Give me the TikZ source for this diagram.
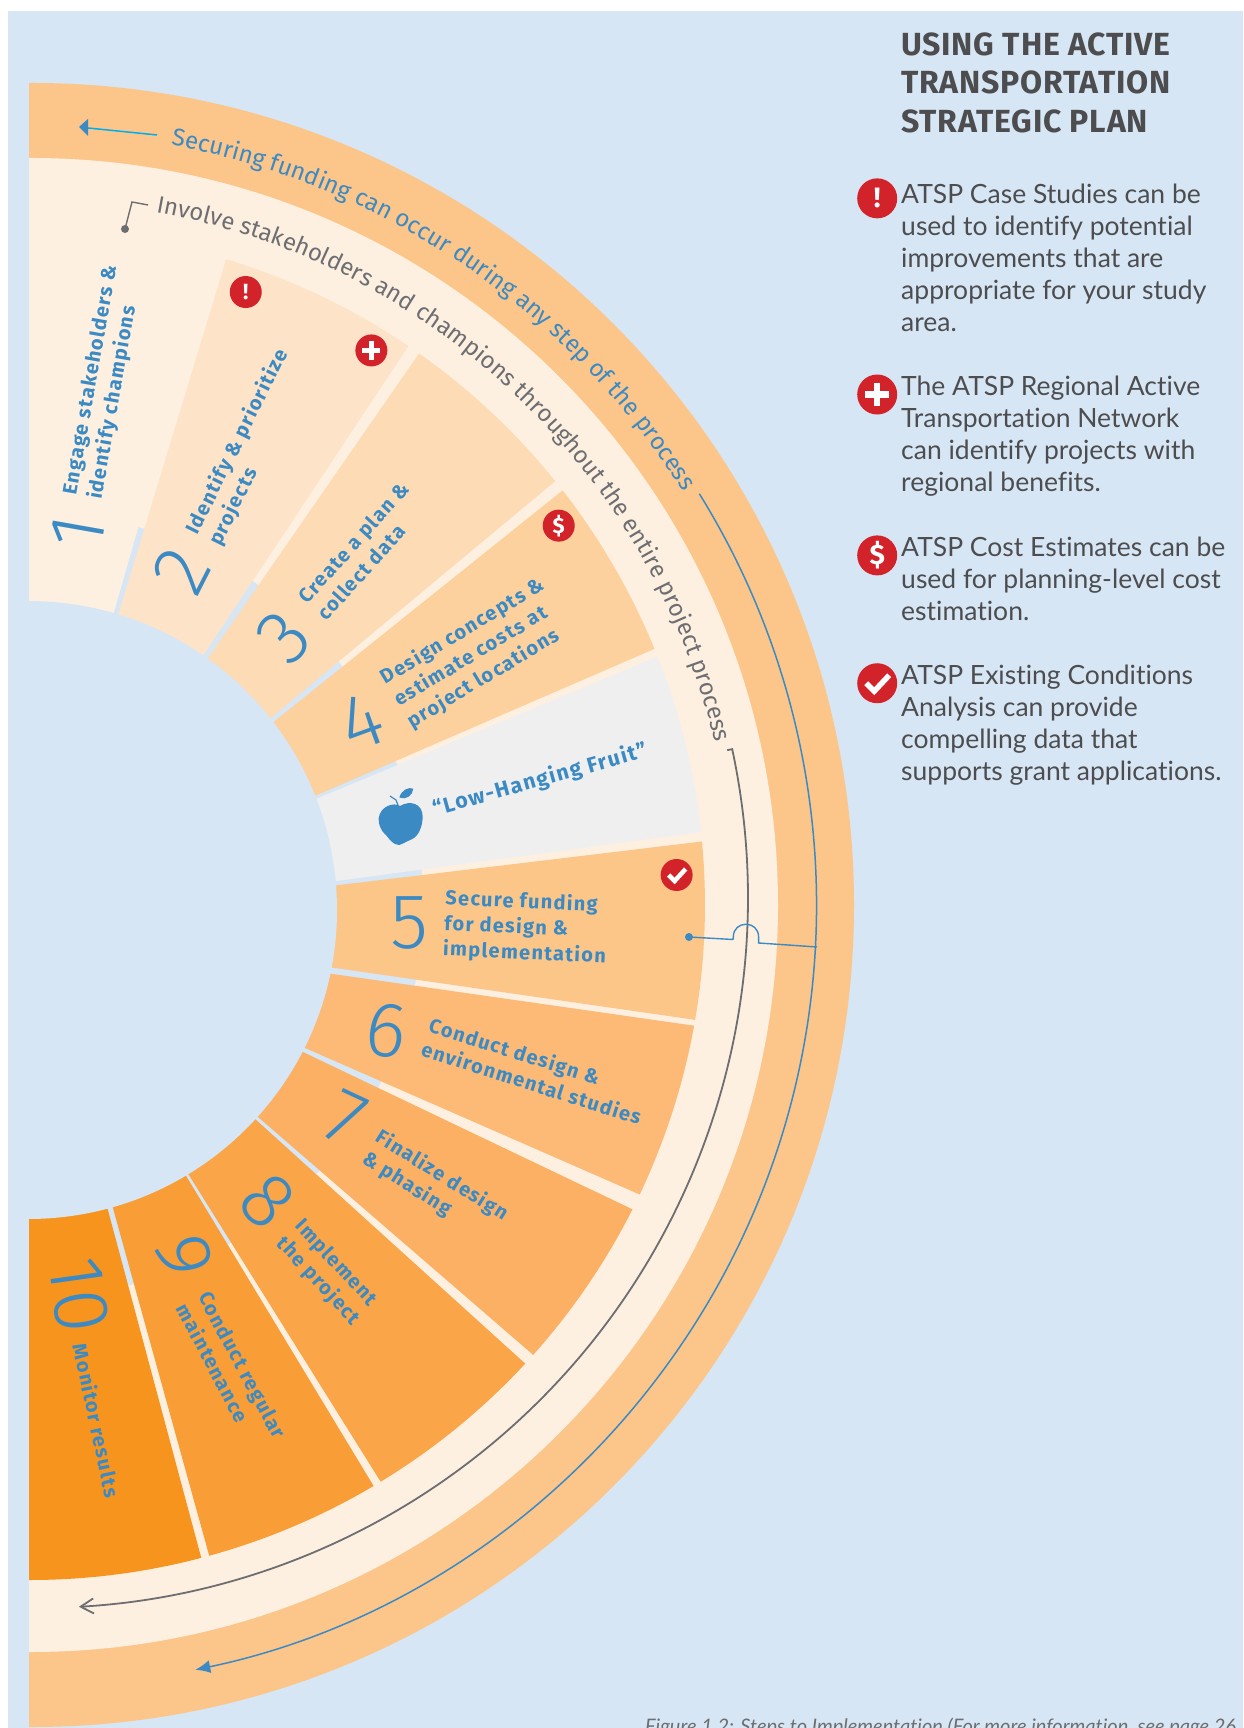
\documentclass[tikz,border=0pt]{standalone}
\usepackage{fontspec}
\usetikzlibrary{decorations.text,arrows.meta}
\newfontfamily\dinf{Fira Sans}
\newfontfamily\dinsp[LetterSpace=6.5]{Fira Sans}
\newfontfamily\dinhead[LetterSpace=2.5]{Fira Sans}
\newfontfamily\thinf{Fira Sans Light}
\newfontfamily\bodyf[Ligatures=NoCommon]{Lato}
\definecolor{bgblue}{HTML}{D6E6F4}
\definecolor{ringor}{HTML}{FCC589}
\definecolor{cream}{HTML}{FEF0E1}
\definecolor{stepblue}{HTML}{3B8AC4}
\definecolor{arcgrey}{HTML}{6D6E71}
\definecolor{txtgrey}{HTML}{4D4D4F}
\definecolor{alertred}{HTML}{D2232A}
\definecolor{skyline}{HTML}{00AEEF}
\definecolor{sa}{HTML}{FDE3C8}
\definecolor{sb}{HTML}{FDDCB5}
\definecolor{sc}{HTML}{FDD19E}
\definecolor{sl}{HTML}{EFEFEF}
\definecolor{sd}{HTML}{FDC689}
\definecolor{se}{HTML}{FCBA76}
\definecolor{sf}{HTML}{FBB063}
\definecolor{sg}{HTML}{FAA547}
\definecolor{sh}{HTML}{F99D36}
\definecolor{si}{HTML}{F7941E}
\newcommand\sector[5]{\fill[#1] (#2:675) arc[start angle=#2,end angle=#4,radius=675] -- (#5:300) arc[start angle=#5,end angle=#3,radius=300] -- cycle;}
\tikzset{
 pc/.style={x=1.102pt,y=-1.102pt,shift={(-30pt,905pt)}},
 rc/.style={x=1pt,y=-1pt,shift={(-30pt,905pt)}},
 digit/.style={inner sep=0pt,text=stepblue,font=\thinf\fontsize{78}{78}\selectfont},
 steptxt/.style={inner sep=0pt,text=stepblue,align=left,font=\dinsp\bfseries\fontsize{20}{25.5}\selectfont},
 legend/.style={inner sep=0pt,anchor=north west,align=left,text=txtgrey,font=\bodyf\fontsize{26.5}{32}\selectfont},
 iconbig/.style={circle,fill=alertred,minimum size=40pt,inner sep=0pt,text=white,font=\dinf\bfseries\fontsize{28}{28}\selectfont},
 iconsmall/.style={circle,fill=alertred,minimum size=32pt,inner sep=0pt,text=white,font=\dinf\bfseries\fontsize{22}{22}\selectfont},
}
\newcommand\plusmark[1]{\fill[white] (#1) ++(-.7,-.19)  rectangle ++(1.4,.38); \fill[white] (#1) ++(-.19,-.7) rectangle ++(.38,1.4);}
\begin{document}
\begin{tikzpicture}[x=1pt,y=1pt]
\useasboundingbox (-30,905) rectangle (1213,-823);
\fill[bgblue] (-22,894) rectangle (1213,-823);
\begin{scope}
\clip (-1,830) rectangle (900,-830);
\fill[ringor] (2,0) circle[radius=822];
\fill[cream] (1,0) circle[radius=747];
\fill[bgblue] (0,0) circle[radius=393];
\fill[cream] (92:295) -- (92:400) -- (74:400) -- (74:295) -- cycle;
\sector{sa}{73.1}{73.1}{55.9}{55.2}
\sector{sb}{54.8}{54.2}{38.9}{37.8}
\sector{sc}{37.9}{36.9}{22.3}{20.9}
\sector{sl}{21.6}{20.3}{6.2}{4.4}
\sector{sd}{5.4}{3.6}{-9.8}{-11.8}
\sector{se}{-10.3}{-13.0}{-25.4}{-27.6}
\sector{sf}{-26.8}{-28.4}{-41.8}{-43.0}
\sector{sg}{-42.8}{-43.6}{-58.7}{-59.6}
\sector{sh}{-59.4}{-60.1}{-74.6}{-74.7}
\sector{si}{-75.3}{-75.7}{-92}{-92}
\fill[bgblue] (-2,-5) circle[radius=309];
\end{scope}

% arc texts
\path[decorate,decoration={text along path,text align=left,text={|\dinf\fontsize{24.1}{26}\selectfont\color{stepblue}|Securing funding can occur during any step of the process}}]
 (79.5:773) arc[start angle=79.5,end angle=25,radius=773];
\path[decorate,decoration={text along path,text align=left,text={|\dinf\fontsize{23.9}{25}\selectfont\color{arcgrey}|Involve stakeholders and champions throughout the entire project process}}]
 (79.7:704) arc[start angle=79.7,end angle=5,radius=704];

% grey arc
\coordinate (gs) at ([shift={(12.1:710)}]8,7);
\draw[arcgrey,line width=1.8pt,-{Straight Barb[length=13pt,width=15pt]}] (gs) ++(-5,-1) -- (gs) arc[start angle=12.1,end angle=-86.7,radius=710];
% blue arc
\coordinate (bs) at ([shift={(31.8:781)}]5.6,-0.3);
\draw[stepblue,line width=1.5pt,-{Latex[length=15pt,width=13pt]}] (bs) arc[start angle=31.8,end angle=-78.2,radius=781];

\begin{scope}[rc]
\coordinate (c1) at (733,939.5);
\coordinate (c2) at (733.3,937);
\coordinate (c3) at (758.6,937);
\coordinate (c4) at (758.6,943);
\coordinate (c5) at (817,947);
\coordinate (dot5) at (689,937);
\fill[stepblue] (dot5) circle[radius=4];
\draw[stepblue,line width=1.4pt] (dot5) -- (c1) -- (c2) .. controls (733.3,920) and (758.6,920) .. (c3) -- (c4) -- (c5);
% top arrow
\coordinate (ta) at (157,135);
\coordinate (tb) at (79,127);
\draw[skyline,line width=1.5pt] (ta) -- (88,128);
\fill[stepblue] (tb) -- (88,119) -- (88,136) -- cycle;
% grey bracket
\coordinate (ga) at (125,229);
\coordinate (gb) at (132,202);
\coordinate (gc) at (148,205);
\fill[arcgrey] (ga) circle[radius=4];
\draw[arcgrey,line width=1.4pt] (ga) -- (gb) -- (gc);
\end{scope}

\begin{scope}[pc]
\node[digit,rotate=80] (n1) at (71,483) {1};
\node[steptxt,rotate=80] (t1) at (94,347) {Engage stakeholders \&\\identify champions};
\node[digit,rotate=63] (n2) at (165,518) {2};
\node[steptxt,rotate=63.5] (t2) at (226,406) {Identify \& prioritize\\projects};
\node[digit,rotate=48] (n3) at (258,578) {3};
\node[steptxt,rotate=48] (t3) at (329.5,500) {Create a plan \&\\collect data};
\node[digit,rotate=20] (n4) at (328,655) {4};
\node[steptxt,rotate=31] (t4) at (432,593) {Design concepts \&\\estimate costs at\\project locations};
\node[steptxt,rotate=15.6,font=\dinsp\bfseries\fontsize{21.5}{25.5}\selectfont] (tl) at (490,708) {“Low-Hanging Fruit”};
\node[digit] (n5) at (372,838) {5};
\node[steptxt,rotate=-2.5] (t5) at (477,842) {Secure funding\\for design \&\\implementation};
\node[digit,rotate=-8] (n6) at (351,935) {6};
\node[steptxt,rotate=-17.5] (t6) at (486,971.5) {Conduct design \&\\environmental studies};
\node[digit,rotate=-25] (n7) at (314,1015) {7};
\node[steptxt,rotate=-32] (t7) at (395,1077) {Finalize design\\\& phasing};
\node[digit,rotate=-45] (n8) at (243,1090) {8};
\node[steptxt,rotate=-47] (t8) at (297,1155) {Implement\\the project};
\node[digit,rotate=-78] (n9) at (167,1140) {9};
\node[steptxt,rotate=-62] (t9) at (210,1244) {Conduct regular\\maintenance};
\node[digit,rotate=-82] (n10) at (72,1175) {10};
\node[steptxt,rotate=-78] (t10) at (88,1289) {Monitor results};
% small icons
\node[iconsmall] (i1) at (223,265) {!};
\node[iconsmall] (i2) at (337,318) {};
\node[iconsmall] (i3) at (507,477) {\$};
\node[iconsmall] (i4) at (614,794) {};
\node[iconbig] (l1) at (796,180) {!};
\node[iconbig] (l2) at (796,358) {};
\node[iconbig] (l3) at (796,504) {\$};
\node[iconbig] (l4) at (796,620) {};
\end{scope}
% plus marks and checks
\begin{scope}[shift={(i2.center)},scale=13]\plusmark{0,0}\end{scope}
\begin{scope}[shift={(l2.center)},scale=17]\plusmark{0,0}\end{scope}
\draw[white,line width=4.5pt] ([shift={(-8,0)}]i4.center) -- ([shift={(-2,-6)}]i4.center) -- ([shift={(9,6)}]i4.center);
\draw[white,line width=5.5pt] ([shift={(-11,0)}]l4.center) -- ([shift={(-3,-8)}]l4.center) -- ([shift={(12,8)}]l4.center);

% apple
\begin{scope}[x=.3333pt,y=-.3333pt,shift={(270pt,185pt)}]
\fill[stepblue] (300,258) .. controls (330,240) and (368,250) .. (368,290) .. controls (368,320) and (355,350) .. (335,358) .. controls (322,362) and (318,368) .. (298,375) .. controls (280,375) and (270,360) .. (258,345) .. controls (240,330) and (235,310) .. (236,295) .. controls (240,260) and (280,245) .. (300,258) -- cycle;
\fill[stepblue] (298,232) .. controls (305,210) and (325,200) .. (340,206) .. controls (338,225) and (320,242) .. (298,232) -- cycle;
\draw[stepblue,line width=1.2pt] (270,228) -- (288,240) -- (295,258);
\end{scope}

\begin{scope}[rc]
\node[inner sep=0pt,anchor=north west,align=left,text=txtgrey,font=\dinhead\bfseries\fontsize{32}{38.5}\selectfont] (head) at (901,32.5) {USING THE ACTIVE\\TRANSPORTATION\\STRATEGIC PLAN};
\node[legend] (g1) at (901,183.5) {ATSP Case Studies can be\\used to identify potential\\improvements that are\\appropriate for your study\\area.};
\node[legend] (g2) at (901,375.5) {The ATSP Regional Active\\Transportation Network\\can identify projects with\\regional benefits.};
\node[legend] (g3) at (901,536.5) {ATSP Cost Estimates can be\\used for planning-level cost\\estimation.};
\node[legend] (g4) at (901,664.5) {ATSP Existing Conditions\\Analysis can provide\\compelling data that\\supports grant applications.};
\node[inner sep=0pt,anchor=base west,text=arcgrey,font=\bodyf\itshape\fontsize{20}{21}\selectfont] (cap) at (645,1733) {Figure 1.2: Steps to Implementation (For more information, see page 26};
\end{scope}
\end{tikzpicture}
\end{document}
